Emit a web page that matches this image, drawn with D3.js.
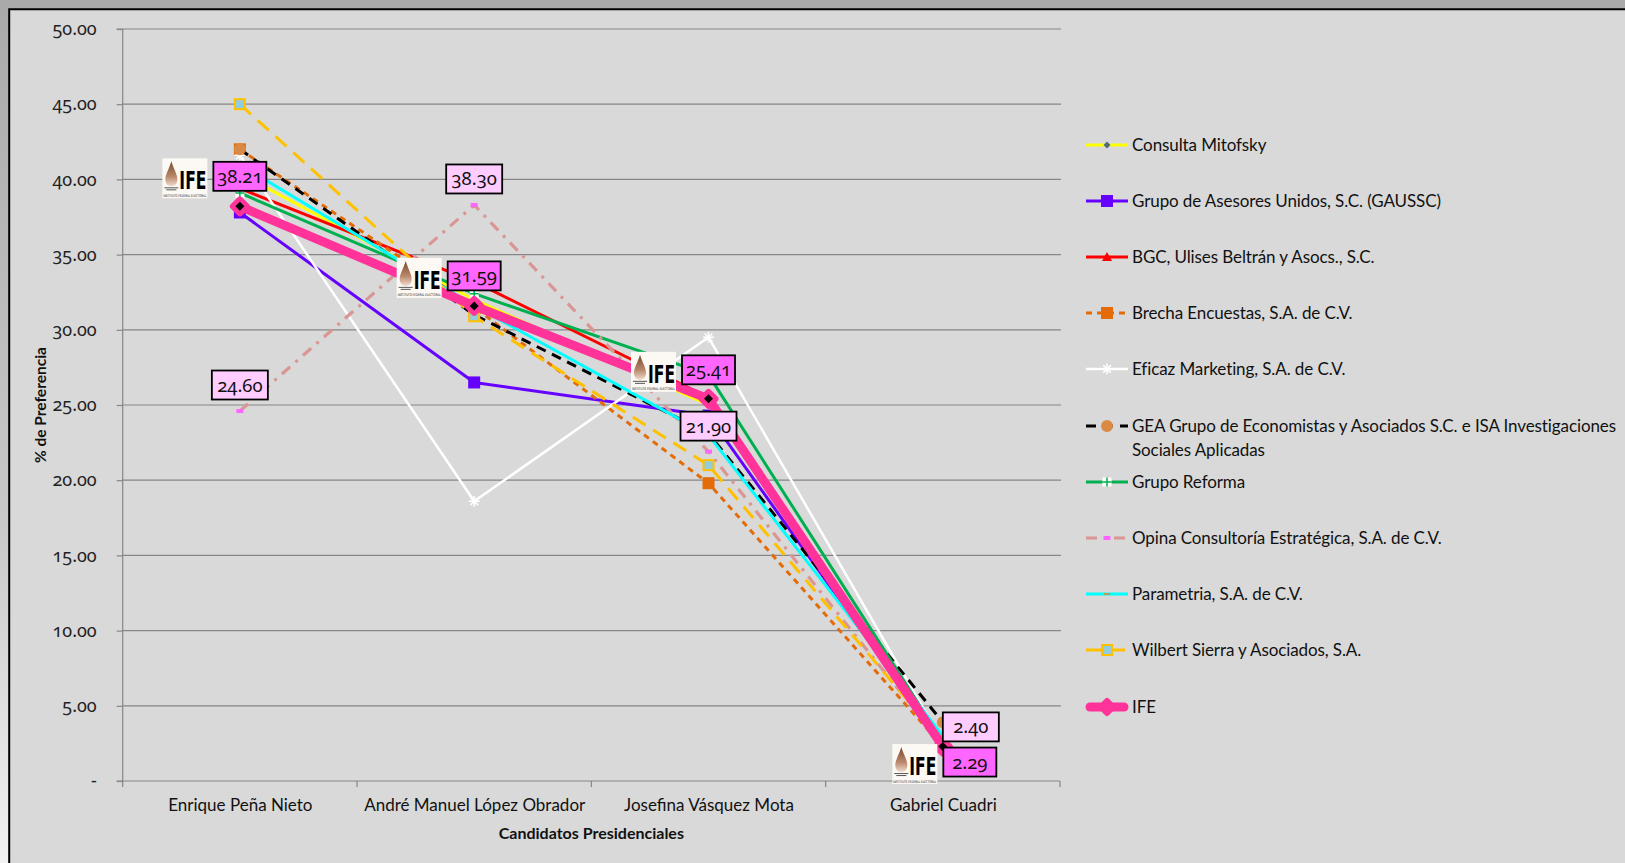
<!DOCTYPE html>
<html><head><meta charset="utf-8">
<script src="https://cdn.jsdelivr.net/npm/d3@7"></script>
<style>
html,body{margin:0;padding:0;background:#d9d9d9;}
svg{display:block;font-family:Lato,"Noto Sans",sans-serif;}
.num{font-family:"Noto Sans",Lato,sans-serif;font-variant-numeric:oldstyle-nums;font-feature-settings:"onum" 1;}
</style></head><body>
<svg id="chart" width="1625" height="863"></svg>
<script>
// ---------- DATA ----------
const categories = ["Enrique Peña Nieto", "André Manuel López Obrador", "Josefina Vásquez Mota", "Gabriel Cuadri"];
const yTicks = [0, 5, 10, 15, 20, 25, 30, 35, 40, 45, 50];
const seriesNames = [
  "Consulta Mitofsky",
  "Grupo de Asesores Unidos, S.C. (GAUSSC)",
  "BGC, Ulises Beltrán y Asocs., S.C.",
  "Brecha Encuestas, S.A. de C.V.",
  "Eficaz Marketing, S.A. de C.V.",
  "GEA Grupo de Economistas y Asociados S.C. e ISA Investigaciones|Sociales Aplicadas",
  "Grupo Reforma",
  "Opina Consultoría Estratégica, S.A. de C.V.",
  "Parametria, S.A. de C.V.",
  "Wilbert Sierra y Asociados, S.A.",
  "IFE"
];
const mitofsky   = [40.4, 32.0, 25.0, 2.5];
const gaussc     = [37.8, 26.5, 24.3, 2.4];
const bgc        = [39.4, 33.2, 25.5, 2.4];
const brecha     = [42.0, 31.5, 19.8, 2.3];
const eficaz     = [41.6, 18.6, 29.5, 2.6];
const gea        = [42.0, 31.0, 23.1, 3.9];
const reforma    = [39.1, 32.4, 27.0, 2.6];
const opina      = [24.60, 38.30, 21.90, 2.40];
const parametria = [41.0, 31.6, 23.0, 3.0];
const wilbert    = [45.0, 30.9, 21.0, 2.6];
const ife        = [38.21, 31.59, 25.41, 2.29];
const seriesValues = [mitofsky, gaussc, bgc, brecha, eficaz, gea, reforma, opina, parametria, wilbert, ife];

// ---------- STYLES ----------
const styles = [
  {color:"#ffff00", width:3, dash:null, marker:"diamond", mfill:"#4f6b86", msize:7},
  {color:"#6600ff", width:3, dash:null, marker:"square", mfill:"#6600ff", msize:12},
  {color:"#ff0000", width:3, dash:null, marker:"triangle", mfill:"#ff0000", msize:10},
  {color:"#e36c09", width:3, dash:"6,5", marker:"square", mfill:"#e36c09", msize:12},
  {color:"#ffffff", width:2.5, dash:null, marker:"star", mfill:"#ffffff", msize:11},
  {color:"#000000", width:3, dash:"10,7", marker:"circle", mfill:"#d98b45", msize:12},
  {color:"#00b050", width:3, dash:null, marker:"plus", mfill:"#ffffff", msize:9},
  {color:"#d99694", width:3.2, dash:"11,7,3,7", marker:"dash", mfill:"#ff66ff", msize:7},
  {color:"#00ffff", width:3, dash:null, marker:"none", mfill:"#b0a050", msize:6},
  {color:"#ffc000", width:3, dash:"15,9", marker:"squareB", mfill:"#93cddd", msize:12},
  {color:"#ff3399", width:9, dash:null, marker:"ife", mfill:"#ff3399", msize:20}
];

const svg = d3.select("#chart");
const W = 1625, H = 863;
const plot = {left:122.7, right:1060, top:29, bottom:781};

// frame
const defs = svg.append("defs");
const lg = defs.append("linearGradient").attr("id","leftStrip").attr("x1",0).attr("y1",0).attr("x2",0).attr("y2",1);
lg.append("stop").attr("offset","0%").attr("stop-color","#aaaaaa");
lg.append("stop").attr("offset","60%").attr("stop-color","#c8c8c8");
lg.append("stop").attr("offset","100%").attr("stop-color","#f2f2f2");
const fg = defs.append("linearGradient").attr("id","flame").attr("x1",0).attr("y1",0).attr("x2",0).attr("y2",1);
fg.append("stop").attr("offset","0%").attr("stop-color","#7a4a2c");
fg.append("stop").attr("offset","60%").attr("stop-color","#b9876a");
fg.append("stop").attr("offset","100%").attr("stop-color","#f0dccd");

svg.append("rect").attr("width",W).attr("height",H).attr("fill","#d9d9d9");
svg.append("rect").attr("x",0).attr("y",0).attr("width",W).attr("height",9).attr("fill","#aaaaaa");
svg.append("rect").attr("x",0).attr("y",9).attr("width",9).attr("height",H-9).attr("fill","url(#leftStrip)");
svg.append("path").attr("d",`M9.2,${H} V9.2 H${W}`).attr("fill","none").attr("stroke","#000").attr("stroke-width",2);

// scales
const x = d3.scalePoint().domain(categories).range([plot.left, plot.right]).padding(0.5);
const y = d3.scaleLinear().domain([0, 50]).range([plot.bottom, plot.top]);
const step = x.step();

// gridlines
svg.append("g").selectAll("line").data(yTicks.filter(d=>d>0)).join("line")
  .attr("x1",plot.left).attr("x2",plot.right+1).attr("y1",d=>y(d)).attr("y2",d=>y(d))
  .attr("stroke","#868686").attr("stroke-width",1.2);

// y axis
const yAxis = d3.axisLeft(y).tickValues(yTicks).tickSize(6).tickPadding(20)
  .tickFormat(d => d === 0 ? "-   " : d3.format(".2f")(d));
const gy = svg.append("g").attr("transform",`translate(${plot.left},0)`).call(yAxis);
gy.attr("font-family",null).attr("font-size",null);
gy.select(".domain").attr("stroke","#868686").attr("stroke-width",1.2).attr("d",`M-6,${plot.bottom}H0V${plot.top}H-6`);
gy.selectAll(".tick line").attr("stroke","#868686").attr("stroke-width",1.2);
gy.selectAll(".tick text").attr("class","num").attr("font-size",18).attr("fill","#222");

// x axis
const xAxis = d3.axisBottom(x).tickSize(0).tickPadding(0);
const gx = svg.append("g").attr("transform",`translate(0,${plot.bottom})`).call(xAxis);
gx.select(".domain").attr("stroke","#868686").attr("stroke-width",1.2).attr("d",`M${plot.left},0H${plot.right}`);
gx.selectAll(".tick text").attr("font-size",17).attr("fill","#111").attr("dy",0).attr("y",30)
  .attr("font-family","Lato, 'Noto Sans', sans-serif");
// boundary ticks
svg.append("g").selectAll("line").data(d3.range(categories.length+1)).join("line")
  .attr("x1",i=>plot.left+i*step).attr("x2",i=>plot.left+i*step)
  .attr("y1",plot.bottom).attr("y2",plot.bottom+6).attr("stroke","#868686").attr("stroke-width",1.2);

// axis titles
svg.append("text").attr("x",(plot.left+plot.right)/2).attr("y",839).attr("text-anchor","middle")
  .attr("font-size",16).attr("font-weight","bold").attr("fill","#111").text("Candidatos Presidenciales");
svg.append("text").attr("transform",`translate(46,${(plot.top+plot.bottom)/2}) rotate(-90)`).attr("text-anchor","middle")
  .attr("font-size",15.5).attr("font-weight","bold").attr("fill","#111").text("% de Preferencia");

// markers
function drawMarker(g, type, cx, cy, st, s, legend) {
  s = s || st.msize;
  const h = s/2;
  if (type === "diamond") {
    g.append("path").attr("d",`M${cx},${cy-h}L${cx+h},${cy}L${cx},${cy+h}L${cx-h},${cy}Z`).attr("fill",st.mfill);
  } else if (type === "square") {
    g.append("rect").attr("x",cx-h).attr("y",cy-h).attr("width",s).attr("height",s).attr("fill",st.mfill);
  } else if (type === "squareB") {
    g.append("rect").attr("x",cx-h+1).attr("y",cy-h+1).attr("width",s-2).attr("height",s-2)
      .attr("fill",st.mfill).attr("stroke",st.color).attr("stroke-width",2);
  } else if (type === "triangle") {
    g.append("path").attr("d",`M${cx},${cy-h}L${cx+h},${cy+h*0.8}L${cx-h},${cy+h*0.8}Z`).attr("fill",st.mfill);
  } else if (type === "circle") {
    g.append("circle").attr("cx",cx).attr("cy",cy).attr("r",h).attr("fill",st.mfill);
  } else if (type === "star") {
    const p = [];
    for (let k=0;k<4;k++){const a=k*Math.PI/4; p.push(`M${cx-h*Math.cos(a)},${cy-h*Math.sin(a)}L${cx+h*Math.cos(a)},${cy+h*Math.sin(a)}`);}
    g.append("path").attr("d",p.join("")).attr("stroke",st.mfill).attr("stroke-width",1.5);
  } else if (type === "plus") {
    g.append("rect").attr("x",cx-h).attr("y",cy-h).attr("width",s).attr("height",s).attr("fill","#ffffff");
    g.append("path").attr("d",`M${cx-h},${cy}H${cx+h}M${cx},${cy-h}V${cy+h}`).attr("stroke",st.color).attr("stroke-width",1.5);
  } else if (type === "dash") {
    g.append("rect").attr("x",cx-h).attr("y",cy-2).attr("width",s).attr("height",4).attr("fill",st.mfill);
  } else if (type === "none") {
    g.append("rect").attr("x",cx-h).attr("y",cy-1).attr("width",s).attr("height",2).attr("fill",st.mfill);
  } else if (type === "ife") {
    g.append("path").attr("d",`M${cx},${cy-h+3}L${cx+h-3},${cy}L${cx},${cy+h-3}L${cx-h+3},${cy}Z`)
      .attr("fill",st.mfill).attr("stroke",st.mfill).attr("stroke-width",6).attr("stroke-linejoin","round");
    if (!legend) g.append("path").attr("d",`M${cx},${cy-4.5}L${cx+4.5},${cy}L${cx},${cy+4.5}L${cx-4.5},${cy}Z`).attr("fill","#000");
  }
}

// series lines
const line = d3.line().x((d,i)=>x(categories[i])).y(d=>y(d));
const gSeries = svg.append("g");
seriesValues.forEach((vals, si) => {
  const st = styles[si];
  const g = gSeries.append("g");
  g.append("path").attr("d", line(vals)).attr("fill","none").attr("stroke",st.color)
    .attr("stroke-width",st.width).attr("stroke-dasharray",st.dash)
    .attr("stroke-linejoin","round").attr("stroke-linecap", st.dash ? "butt" : "round");
  vals.forEach((v,i) => drawMarker(g, st.marker, x(categories[i]), y(v), st));
});

// IFE logo
function ifeLogo(g, lx, ly) {
  const l = g.append("g").attr("transform",`translate(${lx},${ly})`);
  l.append("rect").attr("width",45).attr("height",40).attr("fill","#fcf9f5");
  l.append("path").attr("d","M9,3 C11,10 15,16 15,21 C15,26 12,28 9,28 C6,28 3,26 3,21 C3,16 7,10 9,3 Z").attr("fill","url(#flame)");
  l.append("path").attr("d","M2,29.5H16M4,31.5H14").attr("stroke","#444").attr("stroke-width",0.9);
  l.append("text").attr("x",17).attr("y",31).attr("font-family","'Liberation Sans Narrow','DejaVu Sans Condensed',sans-serif")
    .attr("font-weight","bold").attr("font-size",25).attr("textLength",27).attr("lengthAdjust","spacingAndGlyphs")
    .attr("fill","#000").text("IFE");
  l.append("text").attr("x",1).attr("y",38.5).attr("font-size",3.6).attr("textLength",43)
    .attr("lengthAdjust","spacingAndGlyphs").attr("fill","#222").attr("font-family","'DejaVu Sans Condensed',sans-serif")
    .text("INSTITUTO FEDERAL ELECTORAL");
}

// data labels
const ifeLabelOffsets = [[0,-30],[0,-30],[0,-29],[27,15.5]];
const opinaLabelOffsets = [[0,-26],[0,-26],[0,-25.5],[28,-18]];
function dataLabel(g, cx, cy, text, fill, w) {
  g.append("rect").attr("x",cx-w/2).attr("y",cy-14.5).attr("width",w).attr("height",29)
    .attr("fill",fill).attr("stroke","#000").attr("stroke-width",1.8);
  g.append("text").attr("class","num").attr("x",cx).attr("y",cy+6.5).attr("text-anchor","middle").attr("font-size",18.5)
    .attr("fill","#111").text(text);
}
const gLab = svg.append("g");
opina.forEach((v,i) => {
  const cx = x(categories[i]) + opinaLabelOffsets[i][0], cy = y(v) + opinaLabelOffsets[i][1];
  dataLabel(gLab, cx, cy, d3.format(".2f")(v), "#ffccff", 56);
});
ife.forEach((v,i) => {
  const cx = x(categories[i]) + ifeLabelOffsets[i][0], cy = y(v) + ifeLabelOffsets[i][1];
  ifeLogo(gLab, cx - 26.5 - 6 - 45, cy - 18);
  dataLabel(gLab, cx, cy, d3.format(".2f")(v), "#ff66ff", 53);
});

// legend
const legendY = [145, 201, 257, 313, 369, 426, 482, 538, 594, 650, 707];
const gLeg = svg.append("g");
seriesNames.forEach((name, si) => {
  const st = styles[si];
  const ly = legendY[si];
  const g = gLeg.append("g");
  g.append("line").attr("x1", si===10 ? 1090 : 1086).attr("x2", si===10 ? 1124 : 1128).attr("y1",ly).attr("y2",ly)
    .attr("stroke",st.color).attr("stroke-width",st.width).attr("stroke-dasharray",st.dash)
    .attr("stroke-linecap", si===10 ? "round" : "butt");
  drawMarker(g, st.marker, 1107, ly, st, si===10 ? 18 : st.msize, true);
  const lines = name.split("|");
  lines.forEach((t, k) => {
    g.append("text").attr("x",1132).attr("y",ly + 6 + k*23.5).attr("font-size",17).attr("letter-spacing",-0.1).attr("fill","#111").text(t);
  });
});
</script>
</body></html>
